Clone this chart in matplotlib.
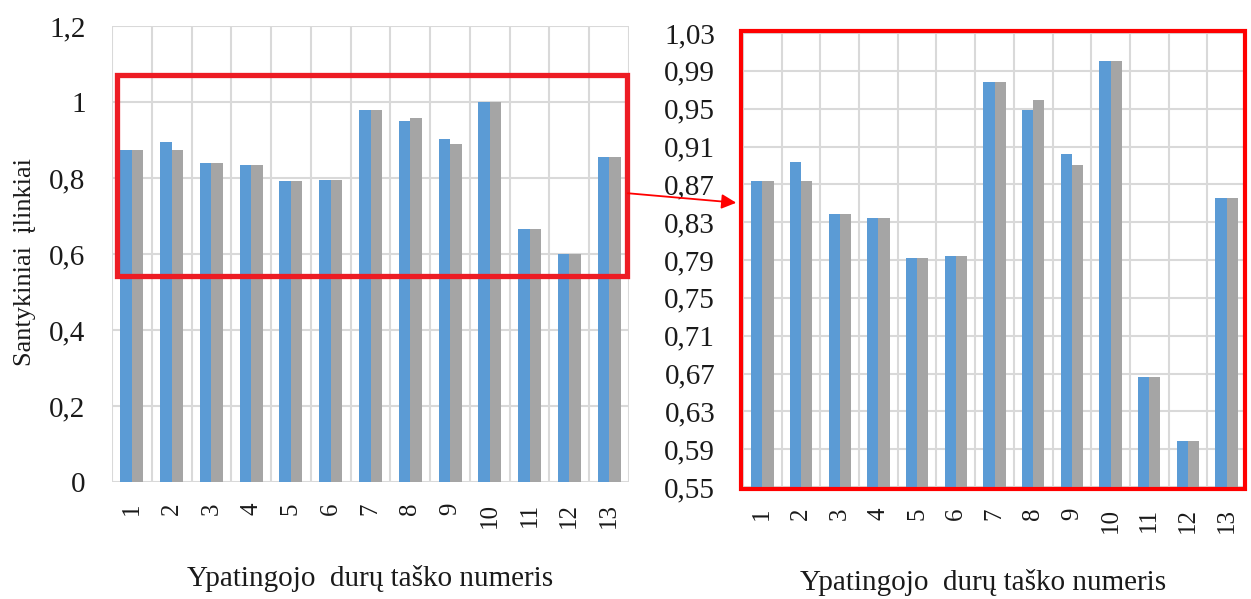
import matplotlib
matplotlib.use("Agg")
import matplotlib.pyplot as plt
from matplotlib.patches import Rectangle, FancyArrowPatch
from matplotlib.ticker import FuncFormatter
import numpy as np

# Ratios of deflections for each special door point (two series)
points = ["1", "2", "3", "4", "5", "6", "7", "8", "9", "10", "11", "12", "13"]
series_a = [0.874, 0.894, 0.839, 0.834, 0.792, 0.794, 0.978, 0.949, 0.902, 1.000, 0.666, 0.599, 0.856]
series_b = [0.874, 0.874, 0.839, 0.834, 0.792, 0.794, 0.978, 0.959, 0.890, 1.000, 0.666, 0.599, 0.856]
left_ticks = [0, 0.2, 0.4, 0.6, 0.8, 1.0, 1.2]
right_ticks = [0.55, 0.59, 0.63, 0.67, 0.71, 0.75, 0.79, 0.83, 0.87, 0.91, 0.95, 0.99, 1.03]

BLUE = "#5B9BD5"
GRAY = "#A5A5A5"
GRID = "#D9D9D9"
RED = "#ED1C24"
TEXT = "#1a1a1a"
FONT = "Liberation Serif"

plt.rcParams["font.family"] = [FONT, "DejaVu Serif"]

W, H = 1251, 599
fig = plt.figure(figsize=(W / 100, H / 100), dpi=100)


def px_box(x0, y0, x1, y1):
    return [x0 / W, 1 - y1 / H, (x1 - x0) / W, (y1 - y0) / H]


def comma(v, nd):
    if abs(v) < 1e-9:
        return "0"
    if abs(v - round(v)) < 1e-9:
        return str(int(round(v)))
    s = f"{v:.{nd}f}"
    if nd == 1:
        s = s.rstrip("0")
    return s.replace(".", ",")


def draw_bars(ax, ticks, ymin, ymax, nd, ypad):
    x = np.arange(1, len(points) + 1)
    w = 0.29
    ax.bar(x - w / 2, series_a, width=w, color=BLUE, zorder=3)
    ax.bar(x + w / 2, series_b, width=w, color=GRAY, zorder=3)
    ax.set_xlim(0.5, len(points) + 0.5)
    ax.set_ylim(ymin, ymax)
    ax.set_yticks(ticks)
    ax.yaxis.set_major_formatter(FuncFormatter(lambda v, p: comma(v, nd)))
    ax.set_xticks(x)
    ax.set_xticklabels(points, rotation=90, va="top", ha="center")
    ax.minorticks_off()
    ax.grid(False)
    for t in ticks:
        ax.axhline(t, color=GRID, lw=1.5, zorder=1)
    for b in np.arange(0.5, len(points) + 1):
        ax.axvline(b, color=GRID, lw=1.5, zorder=1)
    for s in ax.spines.values():
        s.set_visible(False)
    ax.tick_params(axis="both", which="both", length=0, colors=TEXT)
    ax.tick_params(axis="y", labelsize=21, pad=ypad)
    ax.tick_params(axis="x", labelsize=18, pad=15)


# Left panel: full scale
axL = fig.add_axes(px_box(112, 26, 629, 482))
draw_bars(axL, left_ticks, 0, 1.2, 1, 19)
axL.add_patch(Rectangle((0.63, 0.543), 12.82, 0.527, fill=False, edgecolor=RED,
                        lw=3.8, zorder=5, clip_on=False))

# Right panel: zoomed range
axR = fig.add_axes(px_box(743, 33, 1246, 487))
draw_bars(axR, right_ticks, 0.55, 1.03, 2, 20)

# Red frame around the zoomed panel
fig.add_artist(Rectangle((741 / W, 1 - 489 / H), (1245 - 741) / W, (489 - 31) / H,
                         transform=fig.transFigure, fill=False, edgecolor="#FF0000",
                         lw=3, zorder=6))

# Connecting arrow
fig.add_artist(FancyArrowPatch((625 / W, 1 - 193 / H), (739 / W, 1 - 203 / H),
                               transform=fig.transFigure, arrowstyle="-|>",
                               mutation_scale=22, color="#FF0000", lw=1.3, zorder=7))

# Axis titles
fig.text(370 / W, 1 - 578 / H, "Ypatingojo  durų taško numeris", ha="center", va="center",
         fontsize=21, color=TEXT)
fig.text(983 / W, 1 - 583 / H, "Ypatingojo  durų taško numeris", ha="center", va="center",
         fontsize=21, color=TEXT)
fig.text(25 / W, 1 - 262 / H, "Santykiniai  įlinkiai", rotation=90, ha="center", va="center",
         fontsize=19, color=TEXT)

fig.savefig("out.png", dpi=100, facecolor="white")
